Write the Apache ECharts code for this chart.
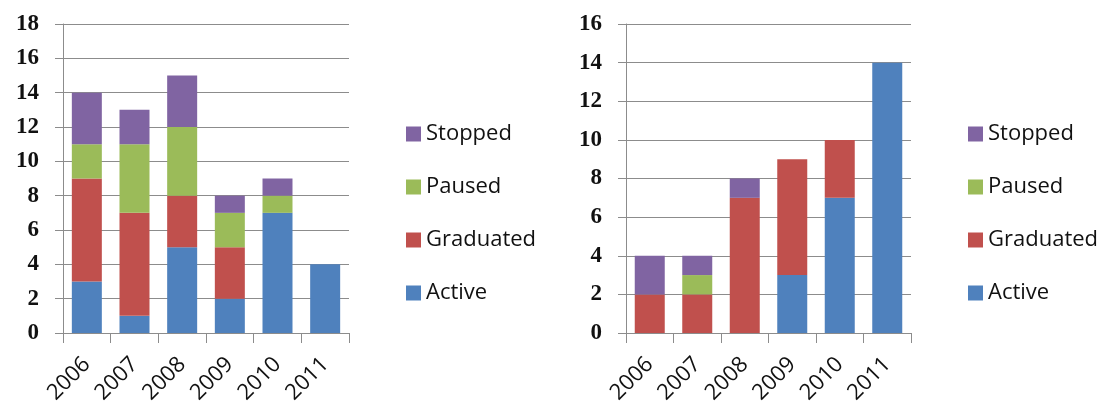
<!DOCTYPE html>
<html>
<head>
<meta charset="utf-8">
<script src="https://cdn.jsdelivr.net/npm/echarts@6/dist/echarts.min.js"></script>
<style>
  html, body { margin: 0; padding: 0; background: #fff; }
  #chart { width: 1104px; height: 407px; }
</style>
</head>
<body>
<div id="chart"></div>
<script>
// categories
const years = ['2006', '2007', '2008', '2009', '2010', '2011']

// left chart
const leftActive    = [3, 1, 5, 2, 7, 4]
const leftGraduated = [6, 6, 3, 3, 0, 0]
const leftPaused    = [2, 4, 4, 2, 1, 0]
const leftStopped   = [3, 2, 3, 1, 1, 0]

// right chart
const rightActive    = [0, 0, 0, 3, 7, 14]
const rightGraduated = [2, 2, 7, 6, 3, 0]
const rightPaused    = [0, 1, 0, 0, 0, 0]
const rightStopped   = [2, 1, 1, 0, 0, 0]

const legendNames = ['Stopped', 'Paused', 'Graduated', 'Active']

// Excel 2007 palette
const colors = {
  Active: '#4f81bd',
  Graduated: '#c0504d',
  Paused: '#9bbb59',
  Stopped: '#8064a2'
}

const gridColor = '#8c8c8c'

const makeX = (gridIndex) => ({
  type: 'category',
  gridIndex,
  data: years,
  axisLine: { lineStyle: { color: gridColor, width: 1 } },
  axisTick: { show: true, alignWithLabel: false, length: 10, lineStyle: { color: gridColor } },
  axisLabel: {
    rotate: 45,
    margin: 28,
    color: '#111',
    fontFamily: 'Open Sans',
    fontSize: 22
  }
})

const makeY = (gridIndex, max) => ({
  type: 'value',
  gridIndex,
  min: 0,
  max,
  interval: 2,
  axisLine: { show: true, lineStyle: { color: gridColor, width: 1 } },
  axisTick: { show: true, inside: false, length: 8, lineStyle: { color: gridColor } },
  splitLine: { show: true, lineStyle: { color: gridColor, width: 1 } },
  axisLabel: {
    margin: 24,
    color: '#111',
    fontFamily: 'Liberation Serif',
    fontWeight: 'bold',
    fontSize: 23
  }
})

const makeBar = (name, data, idx, stack) => ({
  name,
  type: 'bar',
  stack,
  xAxisIndex: idx,
  yAxisIndex: idx,
  data,
  barWidth: 30,
  itemStyle: { color: colors[name] }
})

const makeLegend = (left) => ({
  orient: 'vertical',
  left,
  top: 118,
  data: legendNames,
  icon: 'rect',
  itemWidth: 15,
  itemHeight: 15,
  itemGap: 31,
  selectedMode: false,
  textStyle: {
    color: '#111',
    fontFamily: 'Open Sans',
    fontSize: 22,
    lineHeight: 22,
    padding: [0, 0, 0, 0]
  }
})

const chart = echarts.init(document.getElementById('chart'))

chart.setOption({
  animation: false,
  grid: [
    { left: 63, top: 24, width: 286, height: 309 },
    { left: 626, top: 24, width: 285, height: 309 }
  ],
  legend: [makeLegend(401), makeLegend(963)],
  xAxis: [makeX(0), makeX(1)],
  yAxis: [makeY(0, 18), makeY(1, 16)],
  series: [
    makeBar('Active', leftActive, 0, 'left'),
    makeBar('Graduated', leftGraduated, 0, 'left'),
    makeBar('Paused', leftPaused, 0, 'left'),
    makeBar('Stopped', leftStopped, 0, 'left'),
    makeBar('Active', rightActive, 1, 'right'),
    makeBar('Graduated', rightGraduated, 1, 'right'),
    makeBar('Paused', rightPaused, 1, 'right'),
    makeBar('Stopped', rightStopped, 1, 'right')
  ]
})
</script>
</body>
</html>
